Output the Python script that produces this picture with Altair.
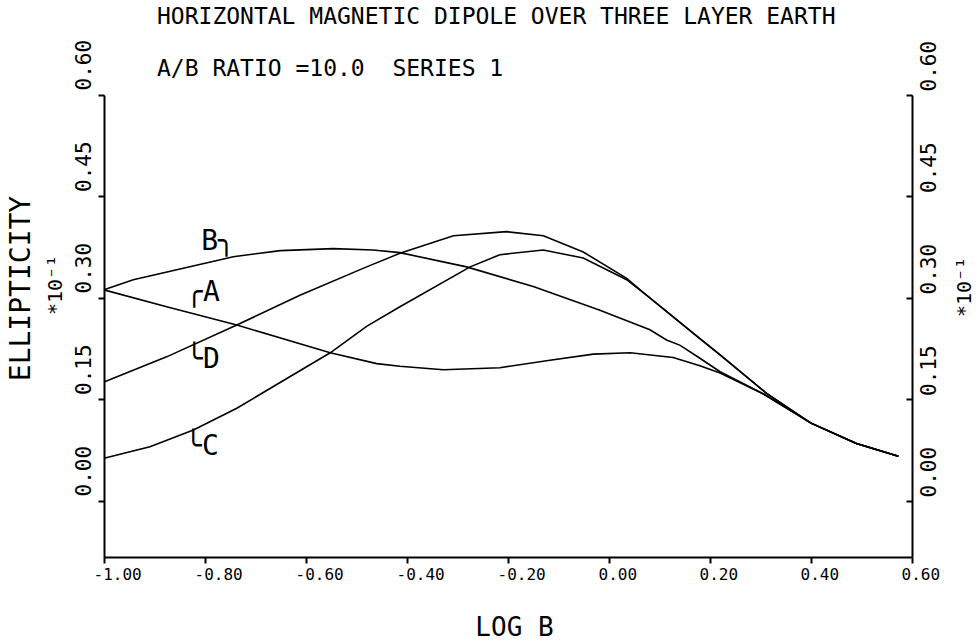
import altair as alt
import pandas as pd

FONT = "DejaVu Sans Mono"

# ---- data ----
series_names = ["A", "B", "C", "D"]

a_x = [-1.0, -0.876, -0.737, -0.552, -0.460, -0.414, -0.328, -0.216, -0.117, -0.031, 0.042, 0.127, 0.180, 0.220, 0.306, 0.400, 0.490, 0.573]
a_y = [0.312, 0.287, 0.260, 0.219, 0.203, 0.199, 0.194, 0.197, 0.208, 0.217, 0.219, 0.212, 0.200, 0.189, 0.158, 0.115, 0.085, 0.066]

b_x = [-1.0, -0.942, -0.744, -0.651, -0.546, -0.467, -0.414, -0.282, -0.150, -0.018, 0.081, 0.114, 0.141, 0.180, 0.220, 0.306, 0.400, 0.490, 0.573]
b_y = [0.312, 0.327, 0.361, 0.370, 0.373, 0.371, 0.367, 0.346, 0.317, 0.282, 0.253, 0.238, 0.230, 0.211, 0.191, 0.158, 0.115, 0.085, 0.066]

c_x = [-1.0, -0.909, -0.823, -0.737, -0.638, -0.552, -0.480, -0.414, -0.275, -0.216, -0.130, -0.051, 0.035, 0.081, 0.180, 0.220, 0.312, 0.400, 0.490, 0.573]
c_y = [0.063, 0.080, 0.105, 0.137, 0.181, 0.219, 0.258, 0.287, 0.346, 0.364, 0.371, 0.359, 0.327, 0.300, 0.240, 0.216, 0.159, 0.115, 0.085, 0.066]

d_x = [-1.0, -0.876, -0.737, -0.612, -0.480, -0.414, -0.308, -0.203, -0.130, -0.051, 0.035, 0.081, 0.180, 0.220, 0.312, 0.400, 0.490, 0.573]
d_y = [0.176, 0.213, 0.260, 0.304, 0.346, 0.366, 0.392, 0.398, 0.392, 0.368, 0.329, 0.300, 0.240, 0.216, 0.159, 0.115, 0.085, 0.066]

label_text = ["B\u256e", "\u256dA", "\u2570D", "\u2570C"]
label_x = [-0.774, -0.804, -0.804, -0.806]
label_y = [0.383, 0.307, 0.208, 0.080]

x_ticks = [-1.0, -0.8, -0.6, -0.4, -0.2, 0.0, 0.2, 0.4, 0.6]
y_ticks = [0.0, 0.15, 0.30, 0.45, 0.60]

title_line1 = "HORIZONTAL MAGNETIC DIPOLE OVER THREE LAYER EARTH"
title_line2 = "A/B RATIO =10.0 \u00a0SERIES 1"
x_title = "LOG B"
y_title = "ELLIPTICITY"
y_unit = "*10\u207b\u00b9"

# ---- tables ----
rows = []
for name, xs, ys in zip(series_names, [a_x, b_x, c_x, d_x], [a_y, b_y, c_y, d_y]):
    for i, (xv, yv) in enumerate(zip(xs, ys)):
        rows.append({"series": name, "logb": xv, "ell": yv, "order": i})
df = pd.DataFrame(rows)
labels_df = pd.DataFrame({"text": label_text, "logb": label_x, "ell": label_y})
one = pd.DataFrame({"k": [0]})

W, H = 808, 462
x_scale = alt.Scale(domain=[-1.0, 0.6], nice=False, zero=False)
y_scale = alt.Scale(domain=[-0.0828, 0.6], nice=False, zero=False)

x_axis = alt.Axis(
    values=x_ticks,
    labelExpr="replace(format(datum.value, '.2f'), '\u2212', '-')",
    labelAlign="left", labelOffset=-11, labelBaseline="top", labelPadding=3,
    labelFontSize=16, tickSize=6, labelFlush=False, labelOverlap=False,
    title=x_title, titleFontSize=26, titleX=410, titleY=70,
    titleAlign="center", titleBaseline="middle", grid=False,
)
x_enc = alt.X("logb:Q", scale=x_scale, axis=x_axis)

left_axis = alt.Axis(
    orient="left", values=y_ticks, labelExpr="format(datum.value, '.2f')",
    labelAngle=270, labelAlign="left", labelBaseline="bottom", labelOffset=-5,
    labelPadding=4, labelFontSize=21, tickSize=6, labelFlush=False,
    labelOverlap=False, grid=False,
    title=y_title, titleFontSize=28, titleAngle=270, titleX=-83, titleY=193,
    titleAlign="center", titleBaseline="middle",
)
right_axis = alt.Axis(
    orient="right", values=y_ticks, labelExpr="format(datum.value, '.2f')",
    ticks=False, tickSize=0, labelPadding=6, labelAngle=270, labelAlign="left",
    labelBaseline="top", labelOffset=-4, labelFontSize=21, labelFlush=False,
    labelOverlap=False, grid=False, title=None,
)
right_ticks_axis = alt.Axis(
    orient="right", values=y_ticks, offset=-6, tickSize=6, domain=False,
    labels=False, grid=False, title=None,
)

lines = alt.Chart(df).mark_line(color="black", strokeWidth=1.6).encode(
    x=x_enc,
    y=alt.Y("ell:Q", scale=y_scale, axis=left_axis),
    detail="series:N",
    order="order:Q",
)

curve_labels = alt.Chart(labels_df).mark_text(
    font=FONT, fontSize=28, color="black", align="center", baseline="middle"
).encode(
    x=x_enc,
    y=alt.Y("ell:Q", scale=y_scale, axis=right_axis),
    text="text:N",
)

tick_carrier = alt.Chart(labels_df).mark_point(opacity=0).encode(
    x=x_enc,
    y=alt.Y("ell:Q", scale=y_scale, axis=right_ticks_axis),
)

t1 = alt.Chart(one).mark_text(
    text=title_line1, font=FONT, fontSize=23, color="black", align="left", baseline="middle"
).encode(x=alt.value(53), y=alt.value(-78))
t2 = alt.Chart(one).mark_text(
    text=title_line2, font=FONT, fontSize=23, color="black", align="left", baseline="middle"
).encode(x=alt.value(53), y=alt.value(-26))
unit_left = alt.Chart(one).mark_text(
    text=y_unit, font=FONT, fontSize=20, color="black", angle=270, align="center", baseline="middle"
).encode(x=alt.value(-48), y=alt.value(190))
unit_right = alt.Chart(one).mark_text(
    text=y_unit, font=FONT, fontSize=20, color="black", angle=270, align="center", baseline="middle"
).encode(x=alt.value(861), y=alt.value(192))

chart = alt.layer(
    lines, curve_labels, tick_carrier, t1, t2, unit_left, unit_right
).resolve_scale(y="independent").properties(
    width=W, height=H,
    autosize=alt.AutoSizeParams(type="none"),
    padding={"left": 104, "top": 95, "right": 66, "bottom": 85},
    background="white",
).configure_view(stroke=None).configure_axis(
    domainColor="black", domainWidth=2, tickColor="black", tickWidth=2,
    labelColor="black", titleColor="black", labelFont=FONT, titleFont=FONT,
    titleFontWeight="normal",
)

chart.save("out.html", embed_options={"renderer": "svg", "actions": False})
